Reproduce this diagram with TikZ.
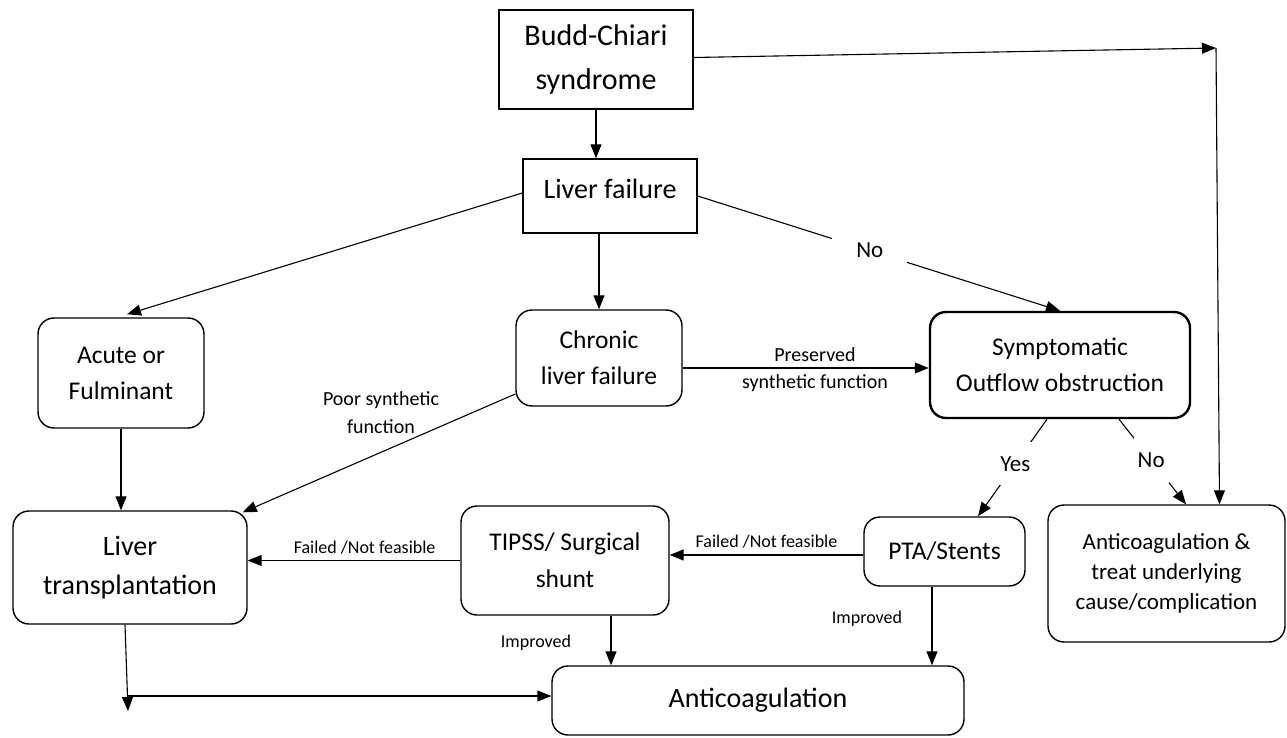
\documentclass[tikz,border=0pt]{standalone}
\usepackage{fontspec}
\setmainfont{Carlito}
\usetikzlibrary{arrows.meta}
\begin{document}
\begin{tikzpicture}[x=1pt,y=-1pt,
  box/.style={draw, line width=1.4pt, align=center, inner sep=0pt},
  rbox/.style={box, rounded corners=16pt},
  arr/.style={line width=1.1pt, -{Triangle[length=14pt,width=11pt]}},
  big/.style={font=\fontsize{28}{39}\selectfont},
  mid/.style={font=\fontsize{25.5}{36}\selectfont},
  lab/.style={font=\fontsize{18}{24}\selectfont, inner sep=1pt, align=center},
  labb/.style={font=\fontsize{20}{28}\selectfont, inner sep=1pt, align=center},
  yn/.style={font=\fontsize{23}{26}\selectfont, fill=white},
  ]
\useasboundingbox (0,0) rectangle (1287,738);

\node[box, font=\fontsize{30}{44}\selectfont, minimum width=194, minimum height=99] (budd) at (596,59.5) {Budd-Chiari\\syndrome};
\node[box, big, text height=20pt, text depth=14pt, minimum width=174, minimum height=74] (lf) at (610,196) {Liver failure};
\node[rbox, mid, minimum width=166, minimum height=110] (acute) at (121,373) {Acute or\\Fulminant};
\node[rbox, mid, minimum width=166, minimum height=96] (chronic) at (599,358) {Chronic\\liver failure};
\node[rbox, mid, line width=2.4pt, minimum width=260, minimum height=106] (symp) at (1060,365) {Symptomatic\\Outflow obstruction};
\node[rbox, big, minimum width=234, minimum height=113] (lt) at (130,567.5) {Liver\\transplantation};
\node[rbox, font=\fontsize{25.5}{37}\selectfont, minimum width=208, minimum height=109] (tipss) at (565,560.5) {TIPSS/ Surgical\\shunt};
\node[rbox, mid, minimum width=161, minimum height=69] (pta) at (944.5,551.5) {PTA/Stents};
\node[rbox, font=\fontsize{23}{30}\selectfont, minimum width=237, minimum height=137] (antiand) at (1166.5,573.5) {Anticoagulation \&\\treat underlying\\cause/complication};
\node[rbox, big, minimum width=412, minimum height=69] (anti) at (758,700.5) {Anticoagulation};

\coordinate (c1) at (1216,48);
\coordinate (ltend) at (128,711);
\coordinate (ltj) at (127,696);

% connectors
\draw[arr] (budd.south) -- (budd.south |- lf.north);
\draw[arr] ([yshift=2]budd.east) -- (c1);
\draw[arr] (c1) -- ([xshift=53]antiand.north);
\draw[arr] ([yshift=3]lf.west) -- ([xshift=6,yshift=3]acute.north);
\draw[arr] (chronic.north |- lf.south) -- (chronic.north);
\draw[arr] (lf.east) -- node[yn, pos=0.475, inner xsep=24pt, inner ysep=6pt] {No} (symp.north);
\draw[arr] ([yshift=-10]chronic.east) -- ([yshift=-10]chronic.east -| symp.west);
\node[labb] (pres) at (815,355) {Preserved};
\node[labb] (synf) at (815,383) {synthetic function};
\draw[arr] ([yshift=-36]chronic.west) -- ([xshift=-5,yshift=-2]lt.north east);
\node[labb] (poor) at (381,413) {Poor synthetic\\function};
\draw[arr] (acute.south) -- (acute.south |- lt.north);
\draw[arr] (tipss.west) -- (tipss.west -| lt.east)
  node[lab, pos=0.45, above=5pt] {Failed /Not feasible};
\draw[arr] ([yshift=-3.5]pta.west) -- ([yshift=-3.5]pta.west -| tipss.east)
  node[lab, pos=0.5, above=5pt] {Failed /Not feasible};
\draw[arr] ([xshift=-13]symp.south) -- node[yn, pos=0.46, inner xsep=4pt, inner ysep=14pt] {Yes} ([xshift=33.5]pta.north);
\draw[arr] ([xshift=59]symp.south) -- node[yn, pos=0.48, inner xsep=4pt, inner ysep=15pt] {No} ([xshift=19.5]antiand.north);
\draw[arr] ([xshift=46]tipss.south) -- ([xshift=46]tipss.south |- anti.north);
\node[lab] (imp1) at (536,643) {Improved};
\draw[arr] ([xshift=-12.5]pta.south) -- ([xshift=-12.5]pta.south |- anti.north);
\node[lab] (imp2) at (867,619) {Improved};
\draw[arr] ([xshift=-5]lt.south) -- (ltend);
\draw[arr] (ltj) -- (ltj -| anti.west);
\end{tikzpicture}
\end{document}
